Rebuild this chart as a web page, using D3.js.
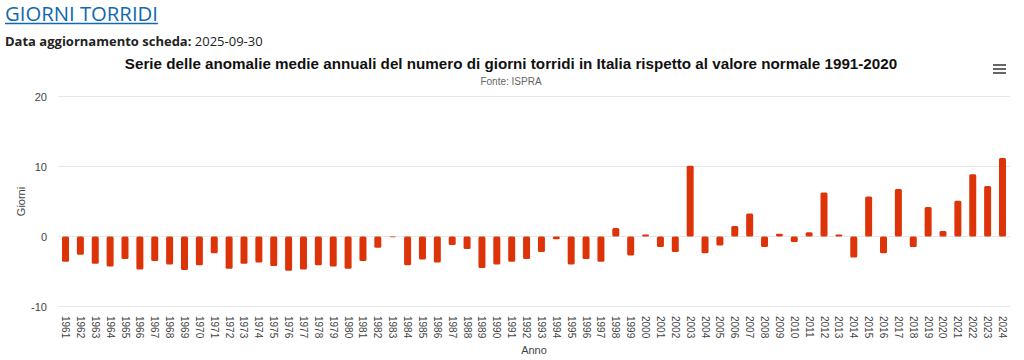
<!DOCTYPE html>
<html><head><meta charset="utf-8">
<script src="https://cdn.jsdelivr.net/npm/d3@7"></script>
<style>
body{margin:0;background:#fff;overflow:hidden}
</style></head>
<body>
<svg id="c" width="1024" height="360"></svg>
<script>
const years = d3.range(1961, 2025).map(String);
const values = [
 -3.6,-2.6,-3.9,-4.3,-3.2,-4.7,-3.5,-4.0,-4.8,-4.1,
 -2.4,-4.6,-3.9,-3.7,-4.2,-4.9,-4.7,-4.1,-4.3,-4.6,
 -3.5,-1.6,-0.1,-4.1,-3.3,-3.7,-1.2,-1.8,-4.5,-4.0,
 -3.6,-3.2,-2.2,-0.4,-4.0,-3.2,-3.6,1.2,-2.7,0.3,
 -1.5,-2.2,10.1,-2.4,-1.3,1.5,3.3,-1.5,0.4,-0.8,
 0.6,6.3,0.3,-3.0,5.7,-2.4,6.8,-1.5,4.2,0.8,
 5.1,8.9,7.2,11.2
];
const yTicks = [-10, 0, 10, 20];
const titleText = "Serie delle anomalie medie annuali del numero di giorni torridi in Italia rispetto al valore normale 1991-2020";
const subtitleText = "Fonte: ISPRA";

const svg = d3.select("#c");
// page header
const h = svg.append("text").attr("x",5).attr("y",20.5)
  .attr("font-family","'Open Sans', sans-serif").attr("font-size",20.3)
  .attr("fill","#1169b0").text("GIORNI TORRIDI");
const hw = h.node().getComputedTextLength();
svg.append("line").attr("x1",5).attr("x2",5+hw).attr("y1",23.5).attr("y2",23.5)
  .attr("stroke","#1169b0").attr("stroke-width",1.5);
const d = svg.append("text").attr("x",5).attr("y",46)
  .attr("font-family","'Open Sans', sans-serif").attr("font-size",13).attr("fill","#222");
d.append("tspan").attr("font-weight","bold").text("Data aggiornamento scheda: ");
d.append("tspan").text("2025-09-30");

// chart title
svg.append("text").attr("x",511).attr("y",69).attr("text-anchor","middle")
  .attr("font-family","'Liberation Sans', Arial, sans-serif").attr("font-size",15.2)
  .attr("font-weight","bold").attr("fill","#111").text(titleText);
svg.append("text").attr("x",511).attr("y",85).attr("text-anchor","middle")
  .attr("font-family","'Liberation Sans', Arial, sans-serif").attr("font-size",10)
  .attr("fill","#666").text(subtitleText);
// menu icon
[0,4,8].forEach(o=>svg.append("line").attr("x1",993).attr("x2",1006)
  .attr("y1",65+o).attr("y2",65+o).attr("stroke","#666").attr("stroke-width",2));

const x = d3.scaleBand().domain(years).range([58,1010]).paddingInner(0.53).paddingOuter(0.27);
const y = d3.scaleLinear().domain([-10,20]).range([306.5,96.5]);

const g = svg.append("g");
g.selectAll("line.grid").data(yTicks).join("line")
  .attr("x1",58).attr("x2",1010).attr("y1",v=>y(v)).attr("y2",v=>y(v))
  .attr("stroke","#e6e6e6").attr("stroke-width",1);
g.selectAll("text.yl").data(yTicks).join("text")
  .attr("x",47).attr("y",v=>y(v)+4).attr("text-anchor","end")
  .attr("font-family","'Liberation Sans', Arial, sans-serif").attr("font-size",11)
  .attr("fill","#444").text(v=>v);
svg.append("text").attr("transform","translate(25,"+y(5)+") rotate(-90)")
  .attr("text-anchor","middle").attr("font-family","'Liberation Sans', Arial, sans-serif")
  .attr("font-size",11).attr("fill","#444").text("Giorni");

g.selectAll("rect.bar").data(values).join("rect")
  .attr("x",(v,i)=>x(years[i])).attr("width",x.bandwidth())
  .attr("y",v=>y(Math.max(0,v))).attr("height",v=>Math.abs(y(v)-y(0)))
  .attr("rx",1.5).attr("fill","#dd3308");

g.selectAll("text.xl").data(years).join("text")
  .attr("transform",yr=>"translate("+(x(yr)+x.bandwidth()/2-3.5)+",316) rotate(90)")
  .attr("font-family","'Liberation Sans', Arial, sans-serif").attr("font-size",10)
  .attr("fill","#444").text(yr=>yr);
svg.append("text").attr("x",534).attr("y",354).attr("text-anchor","middle")
  .attr("font-family","'Liberation Sans', Arial, sans-serif").attr("font-size",11)
  .attr("fill","#444").text("Anno");
</script>
</body></html>
